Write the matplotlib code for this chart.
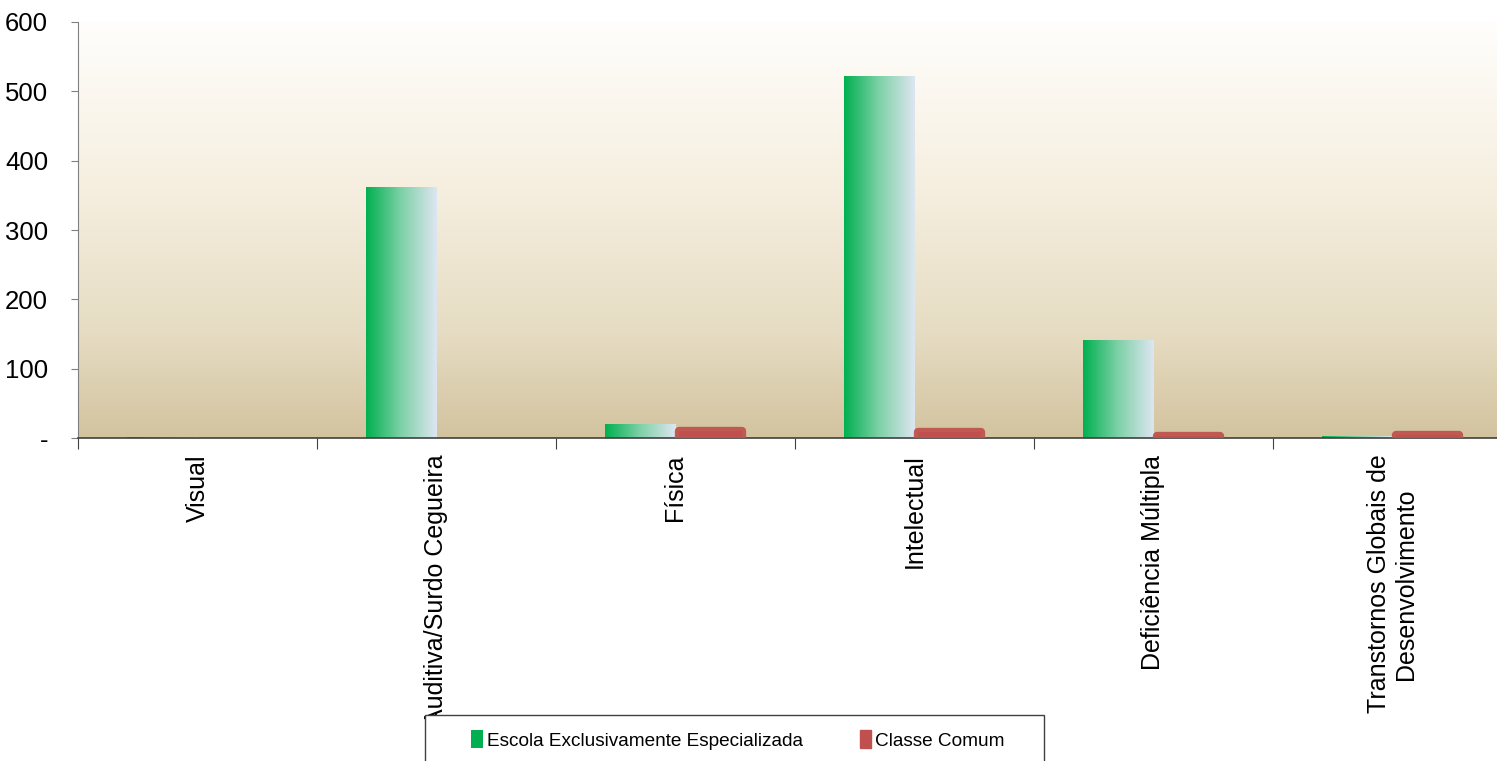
import numpy as np
import matplotlib
matplotlib.use("Agg")
import matplotlib.pyplot as plt
from matplotlib.colors import LinearSegmentedColormap
from matplotlib.patches import Patch, Rectangle

categorias = ["Visual", "Auditiva/Surdo Cegueira", "Física", "Intelectual",
              "Deficiência Múltipla", "Transtornos Globais de\nDesenvolvimento"]
escola_especializada = [1, 362, 20, 522, 142, 3]
classe_comum = [0, 0, 10, 9, 3, 4]
y_ticks = [0, 100, 200, 300, 400, 500, 600]
y_labels = ["-", "100", "200", "300", "400", "500", "600"]

plt.rcParams["font.family"] = ["Liberation Sans", "DejaVu Sans"]

fig = plt.figure(figsize=(14.97, 7.61), dpi=100)
# plot area runs past the right edge of the picture, like the original
ax = fig.add_axes([78 / 1497, 0.4244, 6 * 239 / 1497, 0.5467])

# background gradient
bg = LinearSegmentedColormap.from_list("bg", [(0, "#d3c39f"), (0.25, "#e6dcc3"),
                                               (0.6, "#f6efe0"), (1, "#fffefc")])
ax.imshow(np.linspace(0, 1, 256).reshape(-1, 1), cmap=bg, aspect="auto",
          extent=[-0.5, 5.5, 0, 600], origin="lower", zorder=0)

x = np.arange(len(categorias))
w = 0.295
green = LinearSegmentedColormap.from_list("g", ["#00b050", "#7fd1a8", "#dde6f1"])
bars = ax.bar(x - w / 2, escola_especializada, w, color="none", edgecolor="none", zorder=2)
grad = np.linspace(0, 1, 256).reshape(1, -1)
for b in bars:
    x0, y0 = b.get_x(), b.get_y()
    im = ax.imshow(grad, cmap=green, aspect="auto", zorder=2,
                   extent=[x0, x0 + b.get_width(), y0, y0 + b.get_height()])
    im.set_clip_path(b)

red = ax.bar(x + w / 2, classe_comum, w * 0.9, color="#c0504d", edgecolor="#c0504d",
             linewidth=6, joinstyle="round", zorder=3, alpha=0.92)
for b, v in zip(red, classe_comum):
    if v == 0:
        b.set_visible(False)

ax.set_xlim(-0.5, 5.5)
ax.set_ylim(0, 600)
ax.set_yticks(y_ticks)
ax.set_yticklabels(y_labels, fontsize=18.5)
ax.tick_params(axis="y", length=5, color="#808080", pad=16.5)

ax.set_xticks(np.arange(-0.5, 6, 1))
ax.set_xticklabels([])
ax.tick_params(axis="x", length=8, color="#404040")
for i, c in enumerate(categorias):
    ax.text(i, -24, c, rotation=90, ha="center", va="top", fontsize=18,
            multialignment="center")

for s in ["top", "right"]:
    ax.spines[s].set_visible(False)
ax.spines["left"].set_color("#808080")
ax.spines["bottom"].set_color("#404040")
ax.spines["bottom"].set_linewidth(1.2)

# legend box
fig.patches.append(Rectangle((425 / 1497, -0.05), 619 / 1497, 1 - 715 / 761 + 0.05,
                             transform=fig.transFigure, facecolor="white",
                             edgecolor="#404040", linewidth=1, zorder=3))
handles = [Patch(facecolor="#00b050", edgecolor="none"),
           Patch(facecolor="#c0504d", edgecolor="#c0504d")]
fig.legend(handles, ["Escola Exclusivamente Especializada", "Classe Comum"],
           loc="center", bbox_to_anchor=(738 / 1497, 1 - 740 / 761), ncol=2,
           frameon=False, prop={"size": 13.7},
           handlelength=0.6, handleheight=1.0, handletextpad=0.2, columnspacing=3.0)

fig.savefig("out.png", dpi=100)
